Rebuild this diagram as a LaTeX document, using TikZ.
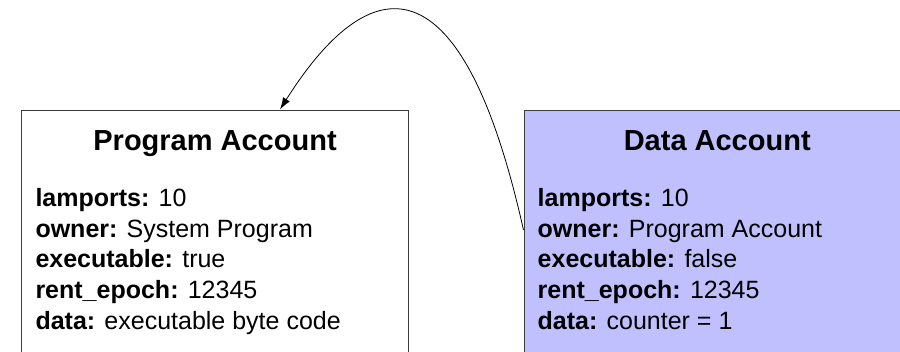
\documentclass[tikz,border=0pt]{standalone}
\usepackage{fontspec}
\setmainfont{Liberation Sans}
\usetikzlibrary{arrows.meta,calc}

\definecolor{datafill}{RGB}{192,192,255}
\definecolor{boxline}{RGB}{60,60,60}

\tikzset{
  account/.style={draw=boxline, line width=1pt, anchor=north west,
                  minimum width=386.5pt, minimum height=270pt, inner sep=0pt},
  acctitle/.style={anchor=base, inner sep=0pt, font=\fontsize{29}{34}\selectfont\bfseries},
  field/.style={anchor=base west, inner sep=0pt, font=\fontsize{25}{30}\selectfont},
  link/.style={line width=0.8pt, -{Latex[length=12pt,width=8pt]}}
}

\begin{document}
\begin{tikzpicture}[x=1pt,y=-1pt]
  \useasboundingbox (0,0) rectangle (900,351);

  % the two accounts
  \node[account] (prog) at (21.3,109.5) {};
  \node[account, fill=datafill] (data) at (523.5,109.5) {};

  % Program Account contents
  \node[acctitle] (progtitle) at ([yshift=-40.5pt]prog.north) {Program Account};
  \node[field] (p1) at ([xshift=14pt,yshift=-97.2pt]prog.north west) {\textbf{lamports:} 10};
  \node[field] (p2) at ([yshift=-30.6pt]p1.base west) {\textbf{owner:} System Program};
  \node[field] (p3) at ([yshift=-30.6pt]p2.base west) {\textbf{executable:} true};
  \node[field] (p4) at ([yshift=-30.6pt]p3.base west) {\textbf{rent\_epoch:} 12345};
  \node[field] (p5) at ([yshift=-30.6pt]p4.base west) {\textbf{data:} executable byte code};

  % Data Account contents
  \node[acctitle] (datatitle) at ([yshift=-40.5pt]data.north) {Data Account};
  \node[field] (d1) at ([xshift=14pt,yshift=-97.2pt]data.north west) {\textbf{lamports:} 10};
  \node[field] (d2) at ([yshift=-30.6pt]d1.base west) {\textbf{owner:} Program Account};
  \node[field] (d3) at ([yshift=-30.6pt]d2.base west) {\textbf{executable:} false};
  \node[field] (d4) at ([yshift=-30.6pt]d3.base west) {\textbf{rent\_epoch:} 12345};
  \node[field] (d5) at ([yshift=-30.6pt]d4.base west) {\textbf{data:} counter = 1};

  % ownership link: data account points back to its owner
  \coordinate (from) at ([yshift=-120.5pt]data.north west);
  \coordinate (to) at ([xshift=258.7pt]prog.north west);
  \draw[link] (from) .. controls (462,-45) and (370,-33) .. (to);
\end{tikzpicture}
\end{document}
